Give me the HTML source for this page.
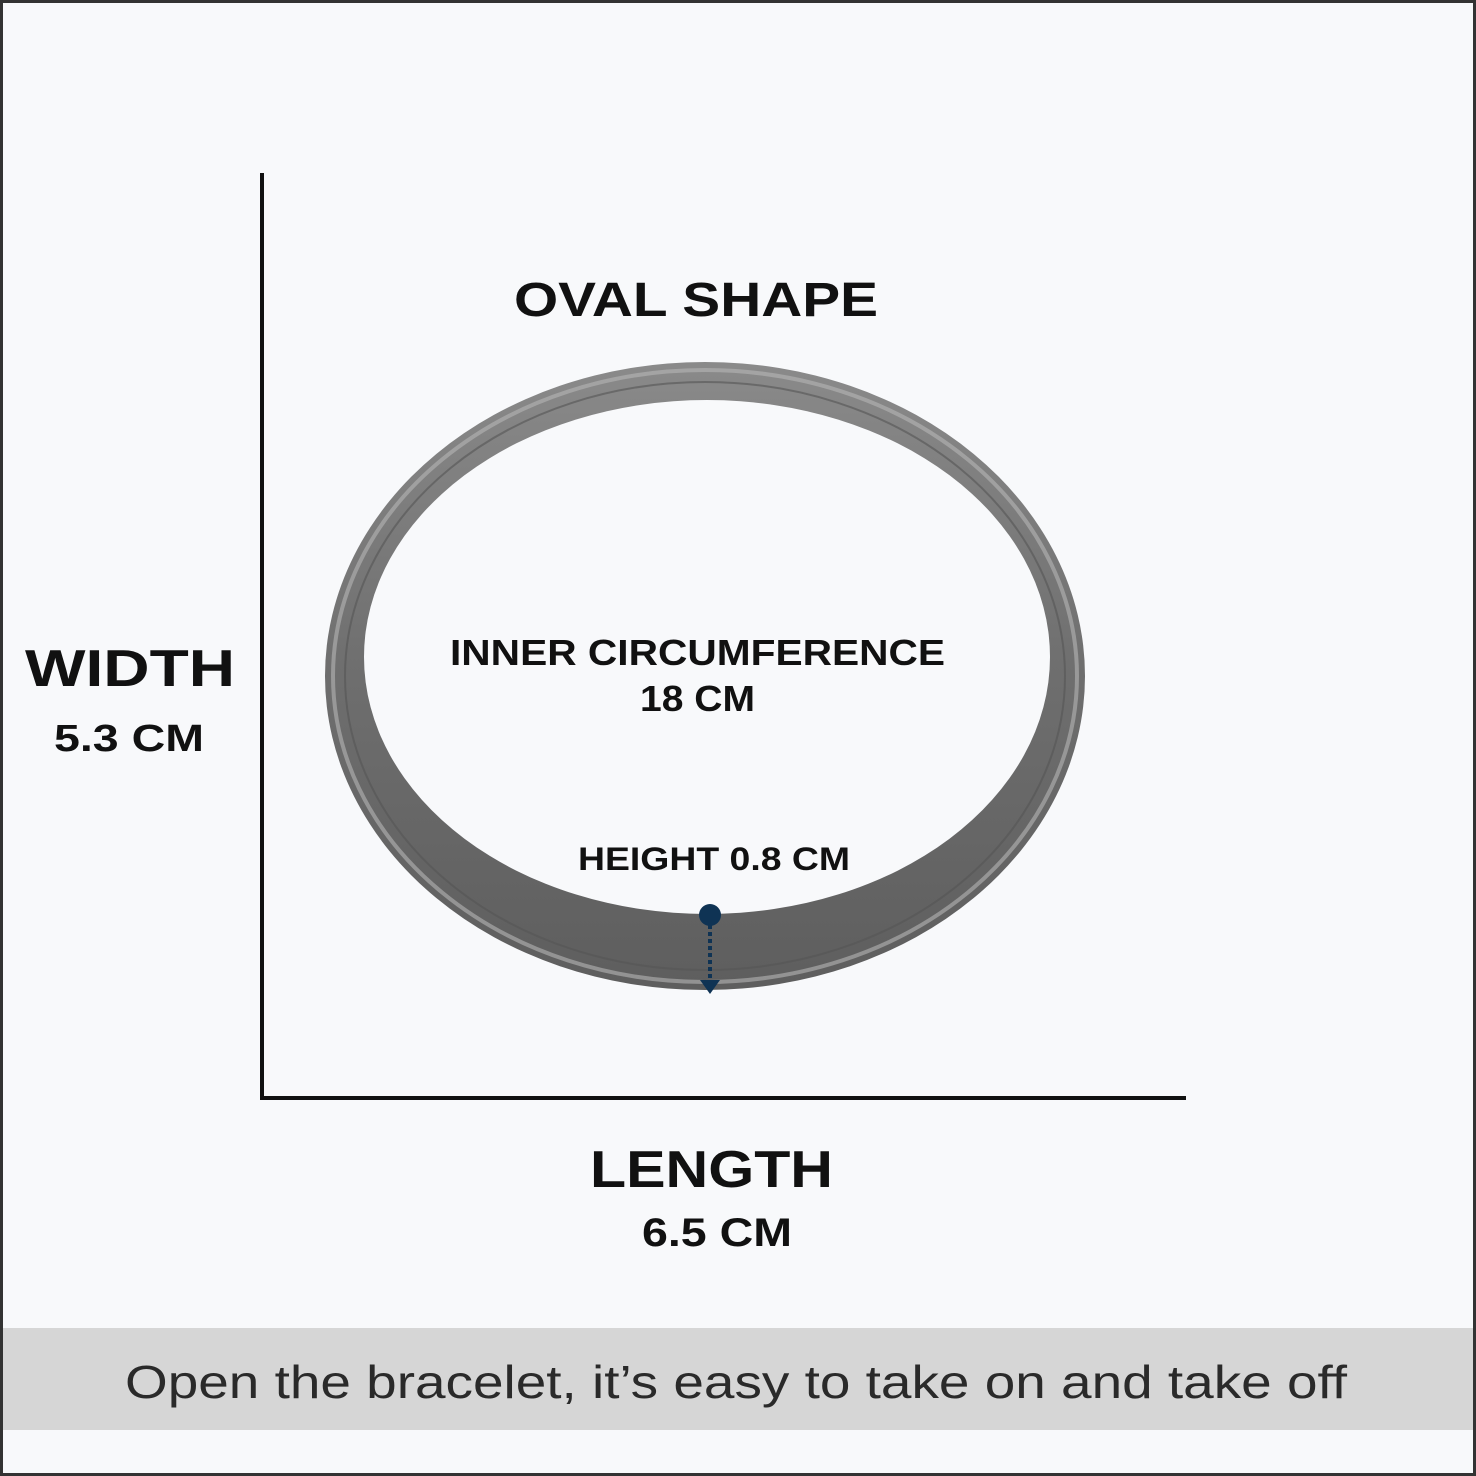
<!DOCTYPE html>
<html><head><meta charset="utf-8"><style>
html,body{margin:0;padding:0;background:#f8f9fb}
svg{display:block}
</style></head><body>
<svg width="1476" height="1476" viewBox="0 0 1476 1476" xmlns="http://www.w3.org/2000/svg">
<defs>
<linearGradient id="g" x1="0" y1="0" x2="0" y2="1">
<stop offset="0" stop-color="#8a8a8a"/><stop offset="0.5" stop-color="#6e6e6e"/><stop offset="1" stop-color="#5e5e5e"/>
</linearGradient>
</defs>
<rect x="0" y="0" width="1476" height="1476" fill="#f8f9fb"/>
<rect x="1.5" y="1.5" width="1473" height="1473" fill="none" stroke="#333" stroke-width="3"/>
<rect x="3" y="1328" width="1470" height="102" fill="#d6d6d6"/>
<line x1="262" y1="173" x2="262" y2="1100" stroke="#111" stroke-width="4"/>
<line x1="260" y1="1098" x2="1186" y2="1098" stroke="#111" stroke-width="4"/>
<ellipse cx="705" cy="676" rx="380" ry="314" fill="url(#g)"/>
<ellipse cx="705" cy="676" rx="372" ry="306" fill="none" stroke="#b5b5b5" stroke-width="4" opacity="0.6"/>
<ellipse cx="705" cy="676" rx="360" ry="294" fill="none" stroke="#555" stroke-width="2" opacity="0.6"/>
<ellipse cx="707" cy="657" rx="343" ry="257" fill="#f8f9fb"/>
<circle cx="710" cy="915" r="11" fill="#0f3354"/>
<line x1="710" y1="925" x2="710" y2="980" stroke="#0f3354" stroke-width="4" stroke-dasharray="4 3"/>
<path d="M700 980 L720 980 L710 994 Z" fill="#0f3354"/>
<g font-family="Liberation Sans, sans-serif" font-weight="bold" fill="#111">
<text x="514" y="316" font-size="48" textLength="364" lengthAdjust="spacingAndGlyphs">OVAL SHAPE</text>
<text x="25" y="686" font-size="52" textLength="210" lengthAdjust="spacingAndGlyphs">WIDTH</text>
<text x="54" y="751" font-size="38" textLength="150" lengthAdjust="spacingAndGlyphs">5.3 CM</text>
<text x="450" y="665" font-size="36" textLength="495" lengthAdjust="spacingAndGlyphs">INNER CIRCUMFERENCE</text>
<text x="640" y="711" font-size="36" textLength="115" lengthAdjust="spacingAndGlyphs">18 CM</text>
<text x="578" y="870" font-size="32" textLength="272" lengthAdjust="spacingAndGlyphs">HEIGHT 0.8 CM</text>
<text x="590" y="1187" font-size="52" textLength="243" lengthAdjust="spacingAndGlyphs">LENGTH</text>
<text x="642" y="1246" font-size="40" textLength="150" lengthAdjust="spacingAndGlyphs">6.5 CM</text>
</g>
<text x="125" y="1398" font-family="Liberation Sans, sans-serif" font-size="46" fill="#2a2a2a" textLength="1222" lengthAdjust="spacingAndGlyphs">Open the bracelet, it’s easy to take on and take off</text>
</svg>
</body></html>
